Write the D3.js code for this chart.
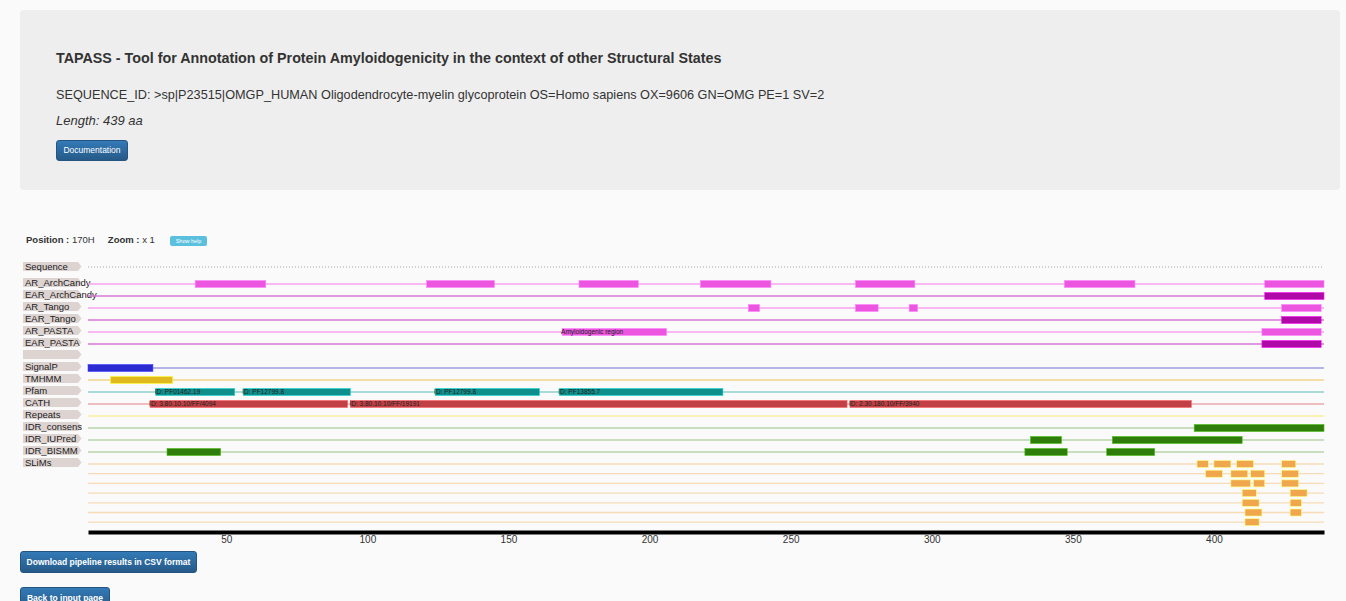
<html><head>
  <meta charset="utf-8">
  <script src="https://d3js.org/d3.v7.min.js"></script>
</head>
<body>
  <style>
  body {
    margin: 0;
    background: #fafafa;
    font-family: "Liberation Sans", Arial, sans-serif;
    color: #333;
    width: 1346px;
    height: 601px;
    overflow: hidden;
    position: relative;
  }
  #header {
    position: absolute;
    left: 20px; top: 10px;
    width: 1320px; height: 180px;
    background: #eeeeee;
    border-radius: 4px;
  }
  #title { position: absolute; left: 36px; top: 40px; font-size: 14.3px; font-weight: bold; color: #333; }
  #seqid { position: absolute; left: 36px; top: 78px; font-size: 12.7px; color: #333; }
  #length { position: absolute; left: 36px; top: 103px; font-size: 13px; font-style: italic; color: #333; }
  .btn {
    position: absolute;
    background: linear-gradient(#337ab7, #265a88);
    border: 1px solid #245580;
    border-radius: 3px;
    color: white;
    font-size: 8.5px;
    text-align: center;
    box-sizing: border-box;
  }
  #docbtn { left: 36px; top: 130px; width: 72px; height: 21px; line-height: 19px; }
  #csvbtn { left: 20px; top: 551px; width: 177px; height: 22px; line-height: 20px; font-weight: bold; }
  #backbtn { left: 20px; top: 587px; width: 90px; height: 22px; line-height: 20px; font-weight: bold; }
  #posbar { position: absolute; left: 26px; top: 234px; font-size: 9.5px; color: #333; white-space: pre; }
  #helpbtn {
    position: absolute; left: 170px; top: 236px; width: 37px; height: 10px;
    background: #5bc0de; border-radius: 2px; color: white; font-size: 5.5px;
    line-height: 10px; text-align: center;
  }
  svg { position: absolute; left: 0; top: 0; }
  .axis text { font-size: 10px; fill: #333; font-family: "Liberation Sans", Arial, sans-serif; }
  .lbl { font-size: 9.5px; fill: #222; }
  .ftext { font-size: 6.5px; fill: #222; }
  </style>

  <div id="header">
    <div id="title">TAPASS - Tool for Annotation of Protein Amyloidogenicity in the context of other Structural States</div>
    <div id="seqid">SEQUENCE_ID: &gt;sp|P23515|OMGP_HUMAN Oligodendrocyte-myelin glycoprotein OS=Homo sapiens OX=9606 GN=OMG PE=1 SV=2</div>
    <div id="length">Length: 439 aa</div>
    <div id="docbtn" class="btn">Documentation</div>
  </div>
  <div id="posbar"><b>Position :</b> 170H     <b>Zoom :</b> x 1</div>
  <div id="helpbtn">Show help</div>
  <div id="csvbtn" class="btn">Download pipeline results in CSV format</div>
  <div id="backbtn" class="btn">Back to input page</div>

  <script>
    // ---- data (residue ranges) ----
    const seqLength = 439
    const tickValues = [50, 100, 150, 200, 250, 300, 350, 400]

    const arArchCandy = [[39,64],[121,145],[175,196],[218,243],[273,294],[347,372],[418,439]]
    const earArchCandy = [[418,439]]
    const arTango = [[235,239],[273,281],[292,295],[424,438]]
    const earTango = [[424,438]]
    const arPasta = [[169,206,"Amyloidogenic region"],[417,438]]
    const earPasta = [[417,438]]
    const signalP = [[1,24]]
    const tmhmm = [[9,31]]
    const pfam = [[25,53,"ID: PF01462.19"],[56,94,"ID: PF12799.8"],[124,161,"ID: PF12799.8"],[168,226,"ID: PF13855.7"]]
    const cath = [[23,93,"ID: 3.80.10.10/FF/4094"],[94,270,"ID: 3.80.10.10/FF/19191"],[271,392,"ID: 2.30.180.10/FF/3940"]]
    const repeats = []
    const idrConsens = [[393,439]]
    const idrIUPred = [[335,346],[364,410]]
    const idrBISMM = [[29,48],[333,348],[362,379]]
    // SLiMs, one array per stacked sub-row
    const slims = [
      [[394,398],[400,406],[408,414],[424,429]],
      [[397,403],[406,412],[413,418],[424,430]],
      [[406,413],[414,418],[424,430]],
      [[410,415],[427,433]],
      [[410,416],[427,431]],
      [[411,417],[427,431]],
      [[411,416]]
    ]

    const tracks = [
      {name: "AR_ArchCandy", data: arArchCandy, bar: "#eb55e0", line: "#f5a3ef"},
      {name: "EAR_ArchCandy", data: earArchCandy, bar: "#b00aa6", line: "#d877d2"},
      {name: "AR_Tango", data: arTango, bar: "#eb55e0", line: "#f5a3ef"},
      {name: "EAR_Tango", data: earTango, bar: "#b00aa6", line: "#d877d2"},
      {name: "AR_PASTA", data: arPasta, bar: "#eb55e0", line: "#f5a3ef"},
      {name: "EAR_PASTA", data: earPasta, bar: "#b00aa6", line: "#d877d2"},
      {name: "", data: [], bar: null, line: null},
      {name: "SignalP", data: signalP, bar: "#2b2bd1", line: "#9c9ce3"},
      {name: "TMHMM", data: tmhmm, bar: "#e0b91d", line: "#f0d68a"},
      {name: "Pfam", data: pfam, bar: "#0f8f8b", line: "#8fcfcc"},
      {name: "CATH", data: cath, bar: "#c04045", line: "#e8aaab"},
      {name: "Repeats", data: repeats, bar: "#e8d44d", line: "#faee9c"},
      {name: "IDR_consens", data: idrConsens, bar: "#2f7d0b", line: "#b7d4aa"},
      {name: "IDR_IUPred", data: idrIUPred, bar: "#2f7d0b", line: "#b7d4aa"},
      {name: "IDR_BISMM", data: idrBISMM, bar: "#2f7d0b", line: "#b7d4aa"}
    ]

    const svg = d3.select("body").append("svg").attr("width", 1346).attr("height", 601)

    const x = d3.scaleLinear().domain([1, seqLength]).range([88, 1324])
    const rowY = d3.scaleLinear().domain([0, 1]).range([284, 296])   // 12px per track row
    const slimY = d3.scaleLinear().domain([0, 1]).range([464, 473.7]) // stacked SLiM rows
    const seqY = 267
    const axisY = 532
    const barH = 7

    // label tag with arrow tip
    function tag(y, name) {
      const g = svg.append("g")
      g.append("path")
        .attr("d", `M23,${y-4.5} H78 L81.5,${y} L78,${y+4.5} H23 Z`)
        .attr("fill", "#ddd3d1")
      g.append("text").attr("class", "lbl").attr("x", 25).attr("y", y + 3.5).text(name)
    }

    // sequence row
    tag(seqY - 0.5, "Sequence")
    svg.append("line").attr("x1", x(1)).attr("x2", x(seqLength))
       .attr("y1", seqY).attr("y2", seqY)
       .attr("stroke", "#aaa").attr("stroke-width", 1).attr("stroke-dasharray", "1,2")

    function drawFeatures(y, data, barColor) {
      if (!barColor || !data.length) return
      const g = svg.append("g")
      g.selectAll("rect").data(data).join("rect")
        .attr("x", d => x(d[0]))
        .attr("y", y - barH / 2)
        .attr("width", d => x(d[1]) - x(d[0]))
        .attr("height", barH)
        .attr("fill", barColor)
        .attr("stroke", d3.color(barColor).brighter(1.2))
        .attr("stroke-width", 0.6)
      g.selectAll("text").data(data.filter(d => d[2])).join("text")
        .attr("class", "ftext")
        .attr("x", d => x(d[0]) - 1)
        .attr("y", y + 2.3)
        .text(d => d[2])
    }

    tracks.forEach((t, i) => {
      const y = rowY(i)
      tag(y - 1.5, t.name)
      if (t.line) {
        svg.append("line").attr("x1", x(1)).attr("x2", x(seqLength))
           .attr("y1", y).attr("y2", y)
           .attr("stroke", t.line).attr("stroke-width", 1.3)
      }
      drawFeatures(y, t.data, t.bar)
    })

    // SLiMs
    tag(slimY(0) - 1.5, "SLiMs")
    slims.forEach((row, i) => {
      const y = slimY(i)
      svg.append("line").attr("x1", x(1)).attr("x2", x(seqLength))
         .attr("y1", y).attr("y2", y)
         .attr("stroke", "#f6dbb6").attr("stroke-width", 1.3)
      drawFeatures(y, row, "#f0a64c")
    })

    // axis
    const axis = svg.append("g").attr("class", "axis")
      .attr("transform", `translate(0,${axisY})`)
      .call(d3.axisBottom(x).tickValues(tickValues).tickSize(0).tickSizeOuter(0).tickPadding(4))
    axis.select(".domain").attr("stroke", "#000").attr("stroke-width", 4)
  </script>
</body>
</html>
